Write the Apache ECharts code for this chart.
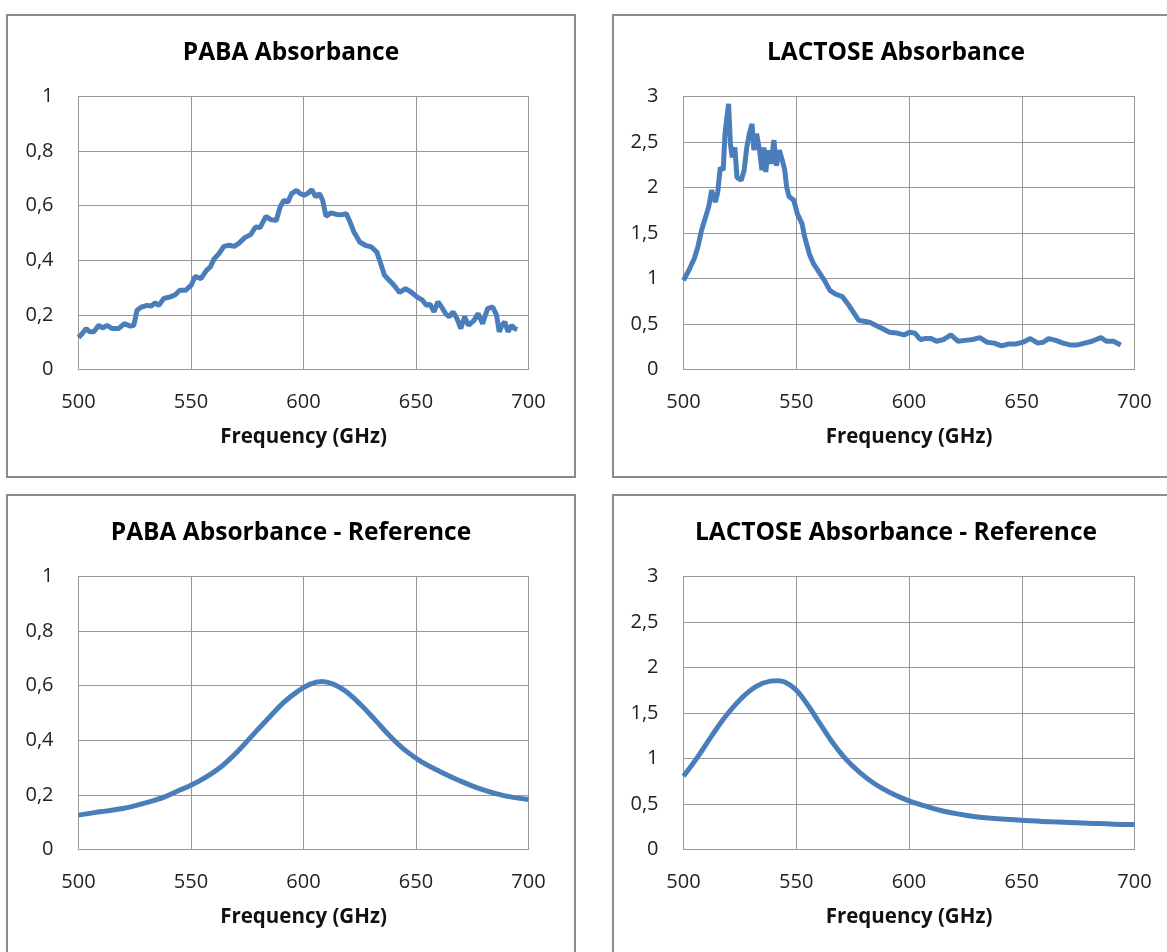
<!DOCTYPE html>
<html>
<head>
<meta charset="utf-8">
<script src="https://cdn.jsdelivr.net/npm/echarts@6/dist/echarts.min.js"></script>
<style>
  html, body { margin: 0; padding: 0; background: #fff; }
  #chart { width: 1167px; height: 952px; }
</style>
</head>
<body>
<div id="chart"></div>
<script>
// Measured PABA absorbance (frequency in GHz)
const pabaFreq = [500, 501.7, 503.4, 505.1, 506.8, 509, 510.7, 512.7, 514.8, 517.8, 520.4, 523, 524.6, 526, 528, 530.6, 532.3, 534, 535.7, 537.9, 540.8, 543, 545, 547.6, 550.1, 551.8, 554.4, 556.9, 558.6, 560.3, 562.4, 564.6, 567.1, 569.2, 571.4, 573.9, 576.5, 578.7, 580.7, 583.3, 585.5, 587.9, 589.6, 591.3, 593, 594.7, 596.9, 598.6, 600.3, 602, 603.7, 605.4, 607.1, 608.5, 610, 612.2, 614.7, 617.3, 619, 620.7, 622.4, 625, 627.5, 630.1, 632.6, 634.3, 636, 638.5, 640.2, 642.7, 645.3, 647.8, 650.4, 652.9, 654.6, 656.3, 658, 659.7, 661.4, 663.1, 664.8, 666.5, 668.2, 669.9, 671.6, 673.3, 675.8, 677.6, 679.6, 681.8, 684.1, 685.8, 687, 688.2, 689.5, 690.9, 692.6, 693.8, 695];
const pabaAbs = [0.117, 0.132, 0.15, 0.138, 0.138, 0.162, 0.152, 0.162, 0.15, 0.15, 0.168, 0.159, 0.162, 0.217, 0.229, 0.235, 0.232, 0.244, 0.235, 0.26, 0.266, 0.274, 0.29, 0.29, 0.309, 0.341, 0.333, 0.363, 0.376, 0.406, 0.424, 0.451, 0.455, 0.451, 0.463, 0.483, 0.494, 0.522, 0.52, 0.561, 0.549, 0.546, 0.595, 0.62, 0.613, 0.644, 0.656, 0.644, 0.638, 0.646, 0.659, 0.632, 0.644, 0.62, 0.561, 0.574, 0.568, 0.567, 0.571, 0.54, 0.504, 0.467, 0.455, 0.449, 0.43, 0.388, 0.345, 0.323, 0.309, 0.282, 0.296, 0.284, 0.266, 0.254, 0.235, 0.239, 0.211, 0.248, 0.229, 0.205, 0.193, 0.211, 0.187, 0.15, 0.193, 0.162, 0.18, 0.205, 0.168, 0.223, 0.229, 0.199, 0.138, 0.162, 0.174, 0.138, 0.162, 0.15, 0.146];

// Measured LACTOSE absorbance
const lactFreq = [500, 502.4, 504.8, 506.4, 508, 509.6, 511.2, 512.5, 514.1, 515.2, 516.3, 517.6, 518.4, 519.2, 520, 520.8, 521.6, 522.8, 523.7, 525.6, 526.9, 528, 529.2, 530.4, 531.2, 532.4, 533.7, 534.8, 535.7, 536.5, 537.5, 538.8, 540.1, 541.2, 542.5, 543.8, 544.9, 545.7, 546.8, 548.9, 550.5, 552.6, 553.7, 555.8, 557.7, 560.1, 562.5, 564.9, 567.3, 570.5, 572.9, 575.3, 577.7, 580.1, 582.5, 584.9, 588.1, 591.3, 594.6, 597.8, 600.2, 602.6, 605, 607.4, 609.8, 612.2, 615.4, 618.6, 621.8, 625, 628.2, 631.4, 634.6, 637.8, 641, 644.2, 647.4, 650.6, 653.8, 657.1, 659.5, 661.9, 665.1, 668.3, 671.5, 674.7, 677.9, 681.1, 685.1, 687.5, 690.7, 693.9];
const lactAbs = [0.98, 1.09, 1.22, 1.35, 1.53, 1.66, 1.79, 1.97, 1.84, 1.95, 2.22, 2.19, 2.59, 2.76, 2.92, 2.48, 2.33, 2.44, 2.11, 2.08, 2.19, 2.43, 2.59, 2.70, 2.41, 2.59, 2.41, 2.19, 2.44, 2.17, 2.41, 2.26, 2.52, 2.24, 2.41, 2.30, 2.19, 2.01, 1.90, 1.86, 1.71, 1.60, 1.46, 1.27, 1.16, 1.07, 0.98, 0.87, 0.83, 0.80, 0.72, 0.63, 0.54, 0.53, 0.52, 0.49, 0.45, 0.41, 0.40, 0.38, 0.41, 0.40, 0.33, 0.34, 0.34, 0.31, 0.33, 0.38, 0.31, 0.32, 0.33, 0.35, 0.30, 0.29, 0.26, 0.28, 0.28, 0.30, 0.34, 0.29, 0.30, 0.34, 0.32, 0.29, 0.27, 0.27, 0.29, 0.31, 0.35, 0.31, 0.31, 0.27];

// Reference PABA absorbance
const pabaRefFreq = [500, 509.4, 519.6, 529.8, 538.3, 545.1, 550.2, 557, 563.8, 570.6, 577.4, 584.3, 591.1, 597.9, 603, 608.1, 613.2, 618.3, 625.1, 631.9, 638.7, 645.4, 652.3, 660.8, 669.4, 677.9, 686.4, 693.2, 700];
const pabaRefAbs = [0.126, 0.138, 0.150, 0.171, 0.193, 0.218, 0.236, 0.267, 0.306, 0.358, 0.419, 0.48, 0.538, 0.582, 0.606, 0.615, 0.606, 0.582, 0.533, 0.474, 0.413, 0.362, 0.322, 0.285, 0.252, 0.224, 0.203, 0.191, 0.183];

// Reference LACTOSE absorbance
const lactRefFreq = [500, 506.4, 512.8, 519.2, 525.6, 532.1, 538.5, 541.7, 544.9, 549.7, 554.5, 559.3, 565.7, 572.1, 578.5, 584.9, 591.3, 599.4, 607.4, 615.4, 623.4, 631.4, 639.4, 649.8, 663.5, 679.5, 690.7, 700];
const lactRefAbs = [0.805, 1.02, 1.26, 1.48, 1.66, 1.79, 1.85, 1.855, 1.84, 1.76, 1.61, 1.43, 1.19, 0.99, 0.84, 0.72, 0.63, 0.54, 0.476, 0.42, 0.384, 0.355, 0.337, 0.322, 0.304, 0.289, 0.278, 0.274];

// Panel titles and axis labels
const panelTitles = ['PABA Absorbance', 'LACTOSE Absorbance', 'PABA Absorbance - Reference', 'LACTOSE Absorbance - Reference'];
const xAxisTitle = 'Frequency (GHz)';
const xTicks = { min: 500, max: 700, step: 50 };
const pabaTicks = { min: 0, max: 1, step: 0.2 };
const lactTicks = { min: 0, max: 3, step: 0.5 };

const FONT = '"Open Sans", "Noto Sans", sans-serif';
const LINE = '#4a7ebb';
const GRID = '#999999';

// panel layout: frame box and plot rectangle
const panels = [
  { box: [7, 15, 568, 462], plot: [78.5, 96.5, 450, 273], titleX: 291, titleY: 53, ticks: pabaTicks, freq: pabaFreq, vals: pabaAbs, smooth: false },
  { box: [613, 15, 580, 462], plot: [683.5, 96.5, 451, 273], titleX: 896, titleY: 53, ticks: lactTicks, freq: lactFreq, vals: lactAbs, smooth: false },
  { box: [7, 495, 568, 480], plot: [78.5, 576.5, 450, 273], titleX: 291, titleY: 533, ticks: pabaTicks, freq: pabaRefFreq, vals: pabaRefAbs, smooth: true },
  { box: [613, 495, 580, 480], plot: [683.5, 576.5, 451, 273], titleX: 896, titleY: 533, ticks: lactTicks, freq: lactRefFreq, vals: lactRefAbs, smooth: true }
];

const fmt = v => String(+v.toFixed(1)).replace('.', ',');

const option = {
  backgroundColor: '#fff',
  animation: false,
  title: panels.map((p, i) => ({
    text: panelTitles[i],
    left: p.titleX,
    top: p.titleY,
    textAlign: 'center',
    textVerticalAlign: 'middle',
    padding: 0,
    textStyle: { fontFamily: FONT, fontWeight: 'bold', fontSize: 24.5, color: '#000' }
  })),
  grid: panels.map(p => ({
    left: p.plot[0], top: p.plot[1], width: p.plot[2], height: p.plot[3],
    show: true, borderColor: GRID, borderWidth: 1, backgroundColor: 'transparent'
  })),
  xAxis: panels.map((p, i) => ({
    type: 'value', gridIndex: i,
    min: xTicks.min, max: xTicks.max, interval: xTicks.step,
    name: xAxisTitle, nameLocation: 'middle', nameGap: 57,
    nameTextStyle: { fontFamily: FONT, fontWeight: 'bold', fontSize: 20.5, color: '#111' },
    axisLine: { show: true, lineStyle: { color: GRID, width: 1 } },
    axisTick: { show: false },
    axisLabel: { fontFamily: FONT, fontSize: 20, color: '#222', margin: 23 },
    splitLine: { show: true, lineStyle: { color: GRID, width: 1 } }
  })),
  yAxis: panels.map((p, i) => ({
    type: 'value', gridIndex: i,
    min: p.ticks.min, max: p.ticks.max, interval: p.ticks.step,
    axisLine: { show: true, lineStyle: { color: GRID, width: 1 } },
    axisTick: { show: false },
    axisLabel: { fontFamily: FONT, fontSize: 20, color: '#222', margin: 25, formatter: fmt },
    splitLine: { show: true, lineStyle: { color: GRID, width: 1 } }
  })),
  series: panels.map((p, i) => ({
    type: 'line', xAxisIndex: i, yAxisIndex: i,
    data: p.freq.map((f, k) => [f, p.vals[k]]),
    showSymbol: false, smooth: p.smooth ? 0.4 : false,
    lineStyle: { color: LINE, width: 5 },
    clip: false
  })),
  graphic: panels.map(p => ({
    type: 'rect', silent: true, z: 100,
    shape: { x: p.box[0], y: p.box[1], width: p.box[2], height: p.box[3] },
    style: { fill: 'transparent', stroke: '#8c8c8c', lineWidth: 2 }
  }))
};

const chart = echarts.init(document.getElementById('chart'), null, { renderer: 'canvas' });
chart.setOption(option);
</script>
</body>
</html>
